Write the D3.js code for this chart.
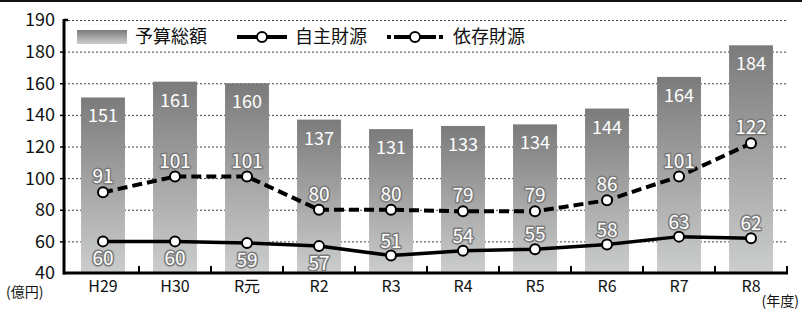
<!DOCTYPE html>
<html>
<head>
<meta charset="utf-8">
<script src="https://cdn.jsdelivr.net/npm/d3@7"></script>
<style>
  html, body { margin: 0; padding: 0; background: #fff; }
  #chart { width: 802px; height: 309px; }
</style>
</head>
<body>
<div id="chart"></div>
<script>
// Data
const categories = ["H29", "H30", "R元", "R2", "R3", "R4", "R5", "R6", "R7", "R8"];
const budgetTotal = [151, 161, 160, 137, 131, 133, 134, 144, 164, 184];
const ownSource = [60, 60, 59, 57, 51, 54, 55, 58, 63, 62];
const dependentSource = [91, 101, 101, 80, 80, 79, 79, 86, 101, 122];
// the top label reads 190 but sits on the 200 step of the scale
const yTickValues = [40, 60, 80, 100, 120, 140, 160, 180, 200];
const yTickLabels = ["40", "60", "80", "100", "120", "140", "160", "180", "190"];
const legendLabels = ["予算総額", "自主財源", "依存財源"];
const yUnitLabel = "(億円)";
const xUnitLabel = "(年度)";

class Chart {
  constructor() {
    const attrs = {
      container: "#chart",
      svgWidth: 802,
      svgHeight: 309,
      marginTop: 20,
      marginBottom: 36,
      marginLeft: 64,
      marginRight: 15,
      defaultFont: "'Noto Sans CJK JP', 'Noto Sans', sans-serif",
    };
    this.getState = () => attrs;
    this.setState = (d) => Object.assign(attrs, d);
  }

  render() {
    this.calculateProperties();
    this.drawSvgAndWrappers();
    this.drawGrid();
    this.drawBars();
    this.drawAxes();
    this.drawLines();
    this.drawLabels();
    this.drawLegend();
    return this;
  }

  calculateProperties() {
    const { svgWidth, svgHeight, marginTop, marginBottom, marginLeft, marginRight } = this.getState();
    const x = d3.scaleBand()
      .domain(categories)
      .range([marginLeft + 3, svgWidth - marginRight])
      .padding(0);
    const y = d3.scaleLinear()
      .domain([40, 200])
      .range([svgHeight - marginBottom, marginTop]);
    this.setState({ x, y });
  }

  drawSvgAndWrappers() {
    const { container, svgWidth, svgHeight, defaultFont } = this.getState();
    const svg = d3.select(container).append("svg")
      .attr("width", svgWidth)
      .attr("height", svgHeight)
      .attr("font-family", defaultFont);

    const defs = svg.append("defs");
    const grad = defs.append("linearGradient")
      .attr("id", "barGrad")
      .attr("x1", 0).attr("y1", 0).attr("x2", 0).attr("y2", 1);
    grad.append("stop").attr("offset", "0%").attr("stop-color", "#7b7b7b");
    grad.append("stop").attr("offset", "45%").attr("stop-color", "#a0a0a0");
    grad.append("stop").attr("offset", "100%").attr("stop-color", "#cbcecc");

    // thin black rule at the very top
    svg.append("rect")
      .attr("x", 0).attr("y", 0)
      .attr("width", svgWidth).attr("height", 2)
      .attr("fill", "#111");

    this.setState({ svg });
  }

  drawGrid() {
    const { svg, x, y, marginLeft } = this.getState();
    const right = x.range()[1];
    svg.append("g").selectAll("line")
      .data(yTickValues.slice(1))
      .join("line")
      .attr("x1", marginLeft)
      .attr("x2", right)
      .attr("y1", d => y(d) + 0.5)
      .attr("y2", d => y(d) + 0.5)
      .attr("stroke", "#444")
      .attr("stroke-width", 1)
      .attr("stroke-dasharray", "2,2");
  }

  drawBars() {
    const { svg, x, y } = this.getState();
    const bw = x.bandwidth() * 0.61;
    svg.append("g").selectAll("rect")
      .data(budgetTotal)
      .join("rect")
      .attr("x", (d, i) => x(categories[i]) + (x.bandwidth() - bw) / 2)
      .attr("width", bw)
      .attr("y", d => y(d))
      .attr("height", d => y(40) - y(d))
      .attr("fill", "url(#barGrad)");
  }

  drawAxes() {
    const { svg, x, y, marginLeft } = this.getState();
    const base = y(40);
    const right = x.range()[1];

    // x axis line with upward ticks at band boundaries
    svg.append("line")
      .attr("x1", marginLeft - 1).attr("x2", right + 1)
      .attr("y1", base).attr("y2", base)
      .attr("stroke", "#000").attr("stroke-width", 3);
    svg.append("g").selectAll("line")
      .data(categories.slice(1).concat(["end"]))
      .join("line")
      .attr("x1", d => d === "end" ? right : x(d))
      .attr("x2", d => d === "end" ? right : x(d))
      .attr("y1", base)
      .attr("y2", base - 7)
      .attr("stroke", "#000").attr("stroke-width", 2);

    // y axis line with ticks to the left
    svg.append("line")
      .attr("x1", marginLeft).attr("x2", marginLeft)
      .attr("y1", y(200) - 1).attr("y2", base + 1.5)
      .attr("stroke", "#000").attr("stroke-width", 3);
    svg.append("line")
      .attr("x1", marginLeft).attr("x2", marginLeft + 4)
      .attr("y1", y(200)).attr("y2", y(200))
      .attr("stroke", "#000").attr("stroke-width", 2.5);
    svg.append("g").selectAll("line")
      .data(yTickValues.slice(1, -1))
      .join("line")
      .attr("x1", marginLeft - 4).attr("x2", marginLeft)
      .attr("y1", d => y(d) + 0.5).attr("y2", d => y(d) + 0.5)
      .attr("stroke", "#000").attr("stroke-width", 1.5);

    svg.append("g").selectAll("text")
      .data(yTickValues)
      .join("text")
      .attr("x", 55)
      .attr("y", d => y(d))
      .attr("dy", "0.36em")
      .attr("text-anchor", "end")
      .attr("font-size", 18)
      .attr("fill", "#111")
      .text((d, i) => yTickLabels[i]);

    svg.append("g").selectAll("text")
      .data(categories)
      .join("text")
      .attr("x", d => x(d) + x.bandwidth() / 2)
      .attr("y", base + 19)
      .attr("text-anchor", "middle")
      .attr("font-size", 16)
      .attr("fill", "#111")
      .text(d => d);

    svg.append("text")
      .attr("x", 6).attr("y", base + 24)
      .attr("font-size", 14)
      .attr("fill", "#111")
      .text(yUnitLabel);
    svg.append("text")
      .attr("x", 799).attr("y", base + 33)
      .attr("text-anchor", "end")
      .attr("font-size", 14)
      .attr("fill", "#111")
      .text(xUnitLabel);
  }

  drawLines() {
    const { svg, x, y } = this.getState();
    const cx = (i) => x(categories[i]) + x.bandwidth() / 2;
    const line = d3.line().x((d, i) => cx(i)).y(d => y(d));

    svg.append("path")
      .datum(dependentSource)
      .attr("d", line)
      .attr("fill", "none")
      .attr("stroke", "#000")
      .attr("stroke-width", 4)
      .attr("stroke-dasharray", "10,5");
    svg.append("path")
      .datum(ownSource)
      .attr("d", line)
      .attr("fill", "none")
      .attr("stroke", "#000")
      .attr("stroke-width", 3.5);

    [dependentSource, ownSource].forEach(series => {
      svg.append("g").selectAll("circle")
        .data(series)
        .join("circle")
        .attr("cx", (d, i) => cx(i))
        .attr("cy", d => y(d))
        .attr("r", 5)
        .attr("fill", "#fff")
        .attr("stroke", "#000")
        .attr("stroke-width", 2);
    });
  }

  drawLabels() {
    const { svg, x, y } = this.getState();
    const cx = (i) => x(categories[i]) + x.bandwidth() / 2;

    svg.append("g").selectAll("text")
      .data(budgetTotal)
      .join("text")
      .attr("x", (d, i) => cx(i))
      .attr("y", d => y(d) + 25)
      .attr("text-anchor", "middle")
      .attr("font-size", 18)
      .attr("fill", "#fff")
      .text(d => d);

    const outlined = (sel) => sel
      .attr("text-anchor", "middle")
      .attr("font-size", 19)
      .attr("fill", "#fff")
      .attr("stroke", "#7a7a7a")
      .attr("stroke-width", 3)
      .attr("paint-order", "stroke")
      .attr("stroke-linejoin", "round");

    svg.append("g").selectAll("text")
      .data(dependentSource)
      .join("text")
      .attr("x", (d, i) => cx(i))
      .attr("y", d => y(d) - 9)
      .call(outlined)
      .text(d => d);

    // the first four own-source labels hang below their points, the rest sit above
    svg.append("g").selectAll("text")
      .data(ownSource)
      .join("text")
      .attr("x", (d, i) => cx(i))
      .attr("y", (d, i) => i < 4 ? y(d) + 24 : y(d) - 8)
      .call(outlined)
      .text(d => d);
  }

  drawLegend() {
    const { svg } = this.getState();
    const g = svg.append("g");
    const ly = 37;

    g.append("rect")
      .attr("x", 77).attr("y", 30)
      .attr("width", 50).attr("height", 14)
      .attr("fill", "url(#barGrad)");
    g.append("text")
      .attr("x", 135).attr("y", ly).attr("dy", "0.36em")
      .attr("font-size", 18).attr("fill", "#111")
      .text(legendLabels[0]);

    g.append("line")
      .attr("x1", 237).attr("x2", 287)
      .attr("y1", ly).attr("y2", ly)
      .attr("stroke", "#000").attr("stroke-width", 4);
    g.append("circle")
      .attr("cx", 262).attr("cy", ly).attr("r", 5)
      .attr("fill", "#fff").attr("stroke", "#000").attr("stroke-width", 2);
    g.append("text")
      .attr("x", 295).attr("y", ly).attr("dy", "0.36em")
      .attr("font-size", 18).attr("fill", "#111")
      .text(legendLabels[1]);

    g.append("line")
      .attr("x1", 387).attr("x2", 443)
      .attr("y1", ly).attr("y2", ly)
      .attr("stroke", "#000").attr("stroke-width", 4)
      .attr("stroke-dasharray", "4,3,42,3,4");
    g.append("circle")
      .attr("cx", 415).attr("cy", ly).attr("r", 5)
      .attr("fill", "#fff").attr("stroke", "#000").attr("stroke-width", 2);
    g.append("text")
      .attr("x", 453).attr("y", ly).attr("dy", "0.36em")
      .attr("font-size", 18).attr("fill", "#111")
      .text(legendLabels[2]);
  }
}

new Chart().render();
</script>
</body>
</html>
